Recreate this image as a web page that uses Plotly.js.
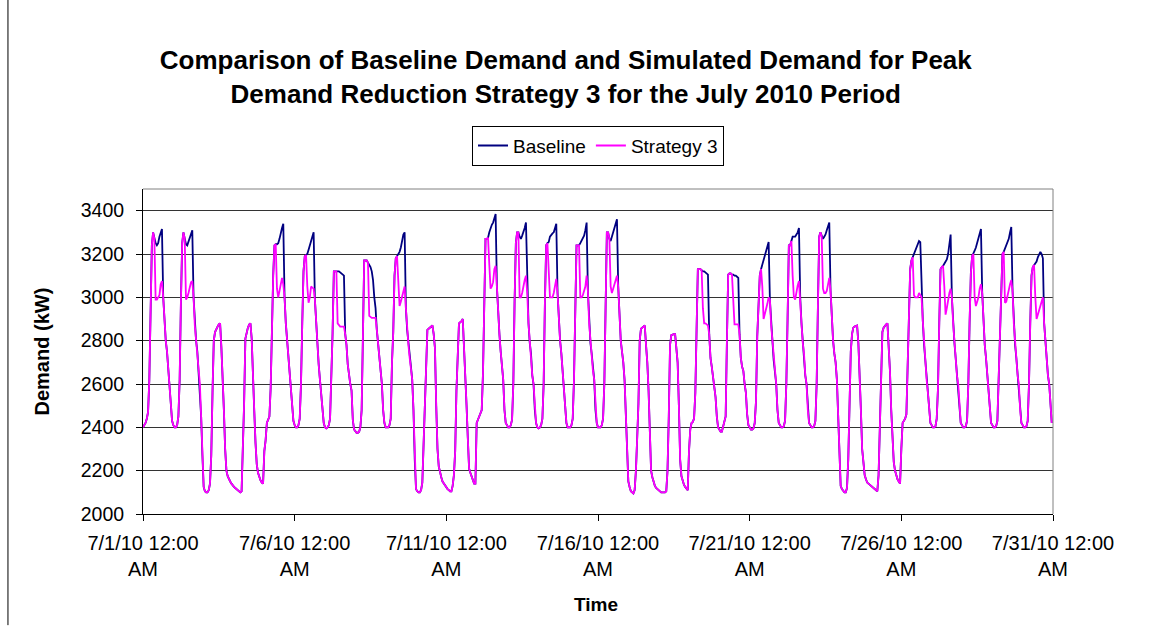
<!DOCTYPE html>
<html>
<head>
<meta charset="utf-8">
<script src="https://cdn.plot.ly/plotly-3.0.1.min.js"></script>
<style>
  html, body { margin: 0; padding: 0; background: #fff; }
  #chart { width: 1150px; height: 641px; }
</style>
</head>
<body>
<div id="chart"></div>
<script>
// Hourly demand (kW), one row per day, hours 0..23, 7/1/2010 .. 7/30/2010
const dayLabels = ["7/1","7/2","7/3","7/4","7/5","7/6","7/7","7/8","7/9","7/10",
  "7/11","7/12","7/13","7/14","7/15","7/16","7/17","7/18","7/19","7/20",
  "7/21","7/22","7/23","7/24","7/25","7/26","7/27","7/28","7/29","7/30"];

const baselineByDay = [
  [2400,2410,2420,2440,2470,2620,2980,3240,3300,3270,3250,3240,3250,3280,3300,3315,3000,2870,2800,2750,2660,2620,2480,2430],
  [2410,2400,2400,2410,2450,2620,2980,3250,3300,3270,3245,3240,3260,3280,3300,3310,3000,2870,2800,2750,2650,2600,2450,2270],
  [2125,2105,2100,2100,2110,2140,2270,2560,2800,2840,2855,2865,2875,2880,2770,2650,2480,2300,2200,2175,2160,2150,2140,2130],
  [2125,2120,2115,2110,2105,2100,2105,2280,2510,2810,2840,2860,2875,2880,2810,2600,2480,2330,2230,2190,2170,2155,2145,2140],
  [2290,2340,2420,2440,2450,2580,2880,3100,3240,3245,3245,3250,3270,3300,3320,3340,3000,2880,2800,2740,2640,2560,2480,2430],
  [2410,2400,2400,2410,2440,2600,2880,3120,3190,3195,3200,3220,3240,3270,3290,3300,2990,2880,2780,2690,2620,2560,2480,2420],
  [2400,2395,2400,2410,2440,2600,2835,3120,3120,3120,3120,3120,3115,3110,3105,3100,2830,2780,2690,2640,2600,2570,2435,2390],
  [2380,2375,2375,2380,2400,2480,2820,3170,3170,3170,3160,3150,3140,3120,3080,3000,2950,2850,2790,2720,2650,2600,2480,2420],
  [2400,2400,2400,2410,2440,2700,2840,3100,3180,3190,3200,3210,3230,3260,3290,3300,2950,2850,2780,2720,2680,2620,2480,2250],
  [2115,2105,2100,2100,2110,2145,2315,2570,2740,2850,2855,2860,2865,2870,2830,2765,2500,2300,2220,2190,2170,2150,2140,2130],
  [2125,2115,2110,2105,2105,2130,2180,2290,2570,2720,2880,2885,2890,2900,2780,2650,2500,2350,2210,2190,2175,2155,2140,2140],
  [2420,2435,2450,2470,2480,2650,3000,3270,3270,3275,3300,3320,3335,3345,3370,3385,3050,2910,2830,2750,2680,2620,2480,2420],
  [2410,2400,2400,2410,2435,2600,2980,3250,3300,3300,3280,3270,3285,3300,3320,3345,3020,2880,2790,2740,2640,2600,2480,2420],
  [2400,2395,2400,2410,2440,2600,2980,3240,3250,3255,3280,3290,3295,3300,3320,3340,3020,2880,2800,2740,2650,2600,2480,2420],
  [2400,2400,2400,2410,2440,2620,3000,3240,3240,3240,3250,3260,3275,3285,3310,3345,3030,2880,2790,2740,2660,2620,2480,2420],
  [2400,2400,2400,2410,2440,2600,2980,3300,3300,3270,3260,3280,3300,3310,3330,3360,3050,2880,2800,2750,2700,2620,2480,2300],
  [2150,2125,2105,2100,2095,2110,2200,2350,2510,2800,2855,2860,2865,2870,2780,2700,2570,2400,2200,2170,2145,2130,2120,2115],
  [2110,2105,2100,2100,2100,2100,2105,2200,2450,2780,2825,2828,2830,2830,2780,2700,2500,2250,2175,2150,2135,2125,2115,2110],
  [2290,2390,2420,2425,2440,2560,2850,3130,3130,3130,3125,3120,3120,3115,3110,3105,2830,2720,2680,2640,2590,2540,2450,2400],
  [2390,2380,2380,2400,2420,2450,2800,3105,3110,3110,3105,3105,3100,3100,3095,3090,2830,2720,2680,2660,2600,2560,2460,2410],
  [2400,2390,2390,2395,2420,2520,2820,3000,3100,3130,3150,3170,3190,3210,3230,3255,2990,2870,2800,2710,2640,2600,2480,2420],
  [2410,2400,2400,2405,2430,2600,2900,3240,3240,3260,3280,3280,3280,3290,3300,3320,3000,2880,2790,2740,2640,2600,2480,2420],
  [2410,2400,2400,2405,2430,2600,2960,3280,3300,3280,3270,3280,3290,3310,3325,3345,3030,2880,2800,2740,2700,2620,2480,2280],
  [2130,2115,2105,2100,2100,2120,2250,2500,2750,2830,2860,2865,2868,2870,2790,2660,2480,2300,2220,2180,2160,2145,2140,2135],
  [2130,2125,2120,2115,2110,2105,2180,2400,2700,2840,2860,2870,2875,2880,2780,2660,2480,2320,2240,2200,2175,2160,2150,2140],
  [2300,2420,2430,2440,2460,2700,2960,3130,3170,3185,3200,3215,3235,3250,3260,3255,3000,2890,2780,2700,2620,2560,2480,2420],
  [2410,2400,2400,2405,2440,2580,2880,3130,3140,3145,3155,3165,3175,3200,3240,3290,3000,2880,2790,2720,2640,2600,2480,2420],
  [2410,2400,2400,2405,2430,2600,2880,3110,3190,3200,3215,3230,3250,3270,3295,3315,3020,2880,2780,2720,2640,2600,2480,2420],
  [2410,2400,2400,2405,2430,2620,2880,3080,3200,3210,3225,3240,3255,3270,3300,3325,3030,2880,2780,2720,2640,2600,2480,2420],
  [2410,2400,2400,2405,2430,2600,2880,3100,3140,3150,3155,3165,3185,3200,3210,3200,3180,2880,2780,2720,2640,2600,2480,2420]
];

// Strategy 3 demand during the reduction window (hours 9..16); null = same as baseline all day
const windowHours = [9,10,11,12,13,14,15,16];
const strategyWindowByDay = [
  [3270,2990,2990,3000,3010,3060,3075,3000],
  [3270,2990,3000,3020,3050,3070,3075,3000],
  null,
  null,
  [3245,3040,3000,3030,3070,3090,3060,3000],
  [3195,3050,2975,3000,3050,3045,3040,2990],
  [3120,2880,2870,2865,2865,2865,2865,2830],
  [3170,3160,2915,2910,2905,2905,2905,2905],
  [3190,3100,2960,2980,3000,3020,3050,2950],
  null,
  null,
  [3275,3150,3040,3050,3070,3130,3145,3050],
  [3300,3000,3000,3020,3060,3080,3100,3020],
  [3100,3000,3000,3000,3020,3060,3085,3020],
  [3240,3000,3000,3010,3030,3050,3100,3030],
  [3270,3050,3020,3040,3060,3080,3100,3050],
  null,
  null,
  [3130,3125,2950,2880,2880,2875,2870,2830],
  [3110,3105,2960,2875,2875,2875,2875,2830],
  [3130,3050,2900,2920,2945,2970,3000,2990],
  [3260,3100,3000,2990,3030,3055,3075,3000],
  [3280,3040,3020,3020,3030,3060,3090,3030],
  null,
  null,
  [3185,3010,3000,3000,3000,3020,3010,3000],
  [3145,3050,2920,2950,3000,3020,3040,3000],
  [3200,3000,2960,2980,3000,3040,3060,3020],
  [3210,2975,2980,3010,3030,3060,3080,3030],
  [3150,3000,2900,2920,2940,2960,2985,3000]
];

const tickDates = ["2010-07-01","2010-07-06","2010-07-11","2010-07-16","2010-07-21","2010-07-26","2010-07-31"];
const tickLabels = ["7/1/10 12:00<br>AM","7/6/10 12:00<br>AM","7/11/10 12:00<br>AM","7/16/10 12:00<br>AM",
  "7/21/10 12:00<br>AM","7/26/10 12:00<br>AM","7/31/10 12:00<br>AM"];
const yTicks = [2000,2200,2400,2600,2800,3000,3200,3400];

// Build the hourly series
const times = [], base = [], strat = [];
function pad(n){ return (n < 10 ? "0" : "") + n; }
baselineByDay.forEach((row, d) => {
  const win = strategyWindowByDay[d];
  row.forEach((v, h) => {
    times.push("2010-07-" + pad(d + 1) + " " + pad(h) + ":00");
    base.push(v);
    const wi = windowHours.indexOf(h);
    strat.push(win && wi >= 0 ? win[wi] : v);
  });
});

const FONT = "Liberation Sans, Arial, Helvetica, sans-serif";

const traces = [
  { x: times, y: base, type: "scatter", mode: "lines", name: "Baseline",
    line: { color: "#000080", width: 1.8 } },
  { x: times, y: strat, type: "scatter", mode: "lines", name: "Strategy 3",
    line: { color: "#FF00FF", width: 1.8 } }
];

const layout = {
  width: 1150, height: 641,
  margin: { l: 143, r: 97, t: 189, b: 127 },
  paper_bgcolor: "#ffffff", plot_bgcolor: "#ffffff",
  font: { family: FONT, size: 19, color: "#000" },
  title: {
    text: "<b>Comparison of Baseline Demand and Simulated Demand for Peak<br>Demand Reduction Strategy 3 for the July 2010 Period</b>",
    font: { family: FONT, size: 26, color: "#000" },
    x: 0.492, xanchor: "center", y: 0.892, yanchor: "middle", yref: "container"
  },
  showlegend: true,
  legend: {
    orientation: "h", x: 0.5, xanchor: "center", y: 1.195, yanchor: "top",
    bordercolor: "#000", borderwidth: 1, bgcolor: "#fff",
    font: { family: FONT, size: 19, color: "#000" },
    itemwidth: 30, tracegroupgap: 0
  },
  xaxis: {
    type: "date",
    range: ["2010-07-01 00:00", "2010-07-31 00:00"],
    tickvals: tickDates, ticktext: tickLabels,
    ticks: "outside", ticklen: 6, tickcolor: "#000", tickwidth: 1,
    showline: true, linecolor: "#000", linewidth: 1,
    showgrid: false, zeroline: false,
    tickfont: { family: FONT, size: 20, color: "#000" },
    ticklabelstandoff: 5
  },
  yaxis: {
    range: [2000, 3500],
    tickvals: yTicks,
    ticks: "outside", ticklen: 6, tickcolor: "#000", tickwidth: 1,
    showline: true, linecolor: "#000", linewidth: 1,
    showgrid: true, gridcolor: "#333333", gridwidth: 1,
    zeroline: false,
    tickfont: { family: FONT, size: 19.5, color: "#000" },
    ticklabelstandoff: 8
  },
  shapes: [
    { type: "line", xref: "paper", yref: "paper", x0: 0, x1: 1, y0: 1, y1: 1,
      line: { color: "#808080", width: 1 } },
    { type: "line", xref: "paper", yref: "paper", x0: 1, x1: 1, y0: 0, y1: 1,
      line: { color: "#808080", width: 1 } },
    { type: "line", xref: "paper", yref: "paper", x0: -0.1484, x1: -0.1484, y0: 1.582, y1: -0.342,
      line: { color: "#000", width: 1 } }
  ],
  annotations: [
    { text: "<b>Demand (kW)</b>", xref: "paper", yref: "paper", x: -0.111, y: 0.5,
      textangle: -90, showarrow: false, xanchor: "center", yanchor: "middle",
      font: { family: FONT, size: 20, color: "#000" } },
    { text: "<b>Time</b>", xref: "paper", yref: "paper", x: 0.498, y: -0.277,
      showarrow: false, xanchor: "center", yanchor: "middle",
      font: { family: FONT, size: 19, color: "#000" } }
  ]
};

Plotly.newPlot("chart", traces, layout, { displayModeBar: false, staticPlot: true });
</script>
</body>
</html>
